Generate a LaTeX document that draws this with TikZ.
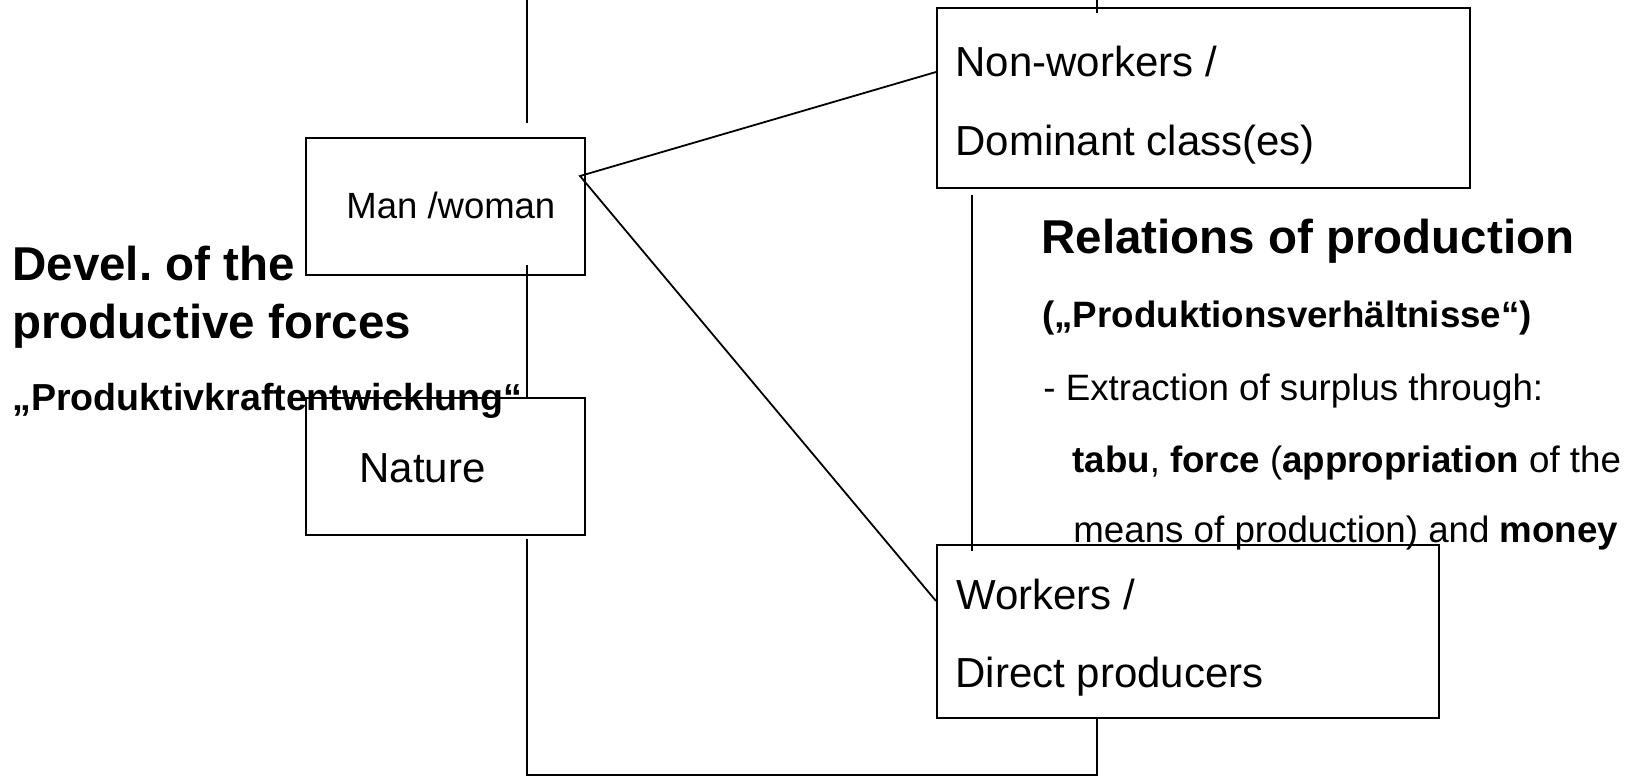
\documentclass[tikz,border=0pt]{standalone}
\usepackage{fontspec}
\setmainfont{Liberation Sans}
\frenchspacing
\tikzset{
  box/.style={draw, line width=0.9pt, inner sep=0pt, anchor=north west},
  conn/.style={line width=0.9pt},
  txt/.style={inner sep=0pt, anchor=base west},
  head/.style={txt, font=\frenchspacing\bfseries\fontsize{23.75pt}{28pt}\selectfont},
  sub/.style={txt, font=\fontsize{18.35pt}{22pt}\selectfont},
  subb/.style={txt, font=\bfseries\fontsize{18.35pt}{22pt}\selectfont},
  boxtext/.style={txt, font=\fontsize{21pt}{25pt}\selectfont},
}
\begin{document}
\begin{tikzpicture}[x=0.5pt,y=-0.5pt]
\useasboundingbox (0,0) rectangle (1639,777);
% boxes
\node[box, minimum width=139.5pt, minimum height=68.5pt] (mw) at (305,137) {};
\node[box, minimum width=139.5pt, minimum height=68.5pt] (nat) at (305,397) {};
\node[box, minimum width=266.5pt, minimum height=90pt] (nw) at (936,7) {};
\node[box, minimum width=251pt, minimum height=86.5pt] (wk) at (936,544) {};
% box texts
\node[txt, font=\fontsize{18.25pt}{22pt}\selectfont] (mwt) at (346,218) {Man /woman};
\node[boxtext] (natt) at (359,482) {Nature};
\node[boxtext] (nwt1) at (955,76) {Non-workers /};
\node[boxtext] (nwt2) at (955,155) {Dominant class(es)};
\node[boxtext] (wkt1) at (956,609) {Workers /};
\node[boxtext] (wkt2) at (955,687) {Direct producers};
% left labels
\node[head] (dev1) at (12,280) {Devel.\ of the};
\node[head] (dev2) at (12,338) {productive forces};
\node[subb, font=\bfseries\fontsize{18.8pt}{22pt}\selectfont] (dev3) at (12,410) {„Produktivkraftentwicklung“};
% right labels
\node[head] (rel1) at (1041,253) {Relations of production};
\node[subb] (rel2) at (1042,327) {(„Produktionsverhältnisse“)};
\node[sub] (rel3) at (1043,400) {- Extraction of surplus through:};
\node[sub] (rel4) at (1072,472) {\textbf{tabu}, \textbf{force} (\textbf{appropriation} of the};
\node[sub] (rel5) at (1073,542) {means of production) and \textbf{money}};
% connector coordinates
\coordinate (tl) at (527,0);
\coordinate (tlend) at (527,123);
\coordinate (mwb) at (527,265);
\coordinate (natb) at (527,539);
\coordinate (corner) at (527,775);
\coordinate (wkb) at (1097,717);
\coordinate (tr) at (1097,0);
\coordinate (trend) at (1097,13);
\coordinate (nwb) at (972,195);
\coordinate (wkt) at (972,551);
\coordinate (apex) at (580,176);
\coordinate (nwl) at (936,72);
\coordinate (wkl) at (936,601);
% connectors
\draw[conn] (tl) -- (tlend);
\draw[conn] (mwb) -- (mwb |- nat.north);
\draw[conn] (natb) -- (corner) -| (wkb);
\draw[conn] (tr) -- (trend);
\draw[conn] (nwb) -- (wkt);
\draw[conn] (nwl) -- (apex) -- (wkl);
\end{tikzpicture}
\end{document}
